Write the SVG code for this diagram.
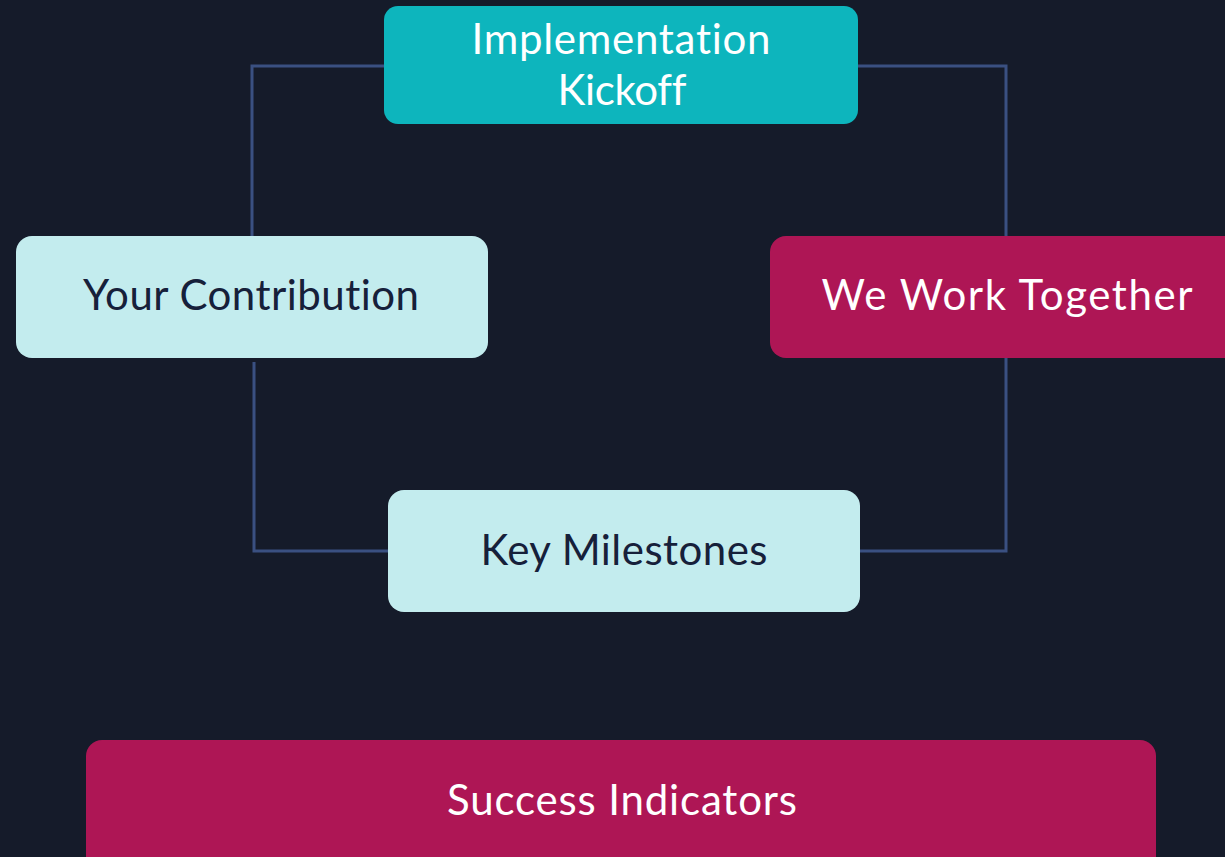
<svg xmlns="http://www.w3.org/2000/svg" width="1225" height="857" viewBox="0 0 1225 857">
<style>
.bg{fill:#151b2a}
.conn{fill:none;stroke:#3a5081;stroke-width:3}
.t{font-family:Lato,"Noto Sans","Liberation Sans",sans-serif;font-size:42px;text-anchor:middle;font-variant-ligatures:none}
.light{fill:#c3ecee}
.teal{fill:#0db5bd}
.pink{fill:#ae1655}
.dk{fill:#16203a}
.wt{fill:#ffffff}
</style>
<rect class="bg" x="0" y="0" width="1225" height="857"/>
<g id="connectors">
<polyline class="conn" points="384,66 252,66 252,236"/>
<polyline class="conn" points="858,66 1006,66 1006,236"/>
<polyline class="conn" points="254,362 254,551 388,551"/>
<polyline class="conn" points="1006,358 1006,551 860,551"/>
</g>
<g id="kickoff">
<rect class="teal" x="384" y="6" width="474" height="118" rx="14"/>
<text class="t wt" x="621" y="54" textLength="299" lengthAdjust="spacing">Implementation</text>
<text class="t wt" x="622" y="105" textLength="129" lengthAdjust="spacing">Kickoff</text>
</g>
<g id="contribution">
<rect class="light" x="16" y="236" width="472" height="122" rx="16"/>
<text class="t dk" x="251" y="310" textLength="336" lengthAdjust="spacing">Your Contribution</text>
</g>
<g id="together">
<rect class="pink" x="770" y="236" width="474" height="122" rx="16"/>
<text class="t wt" x="1007" y="310" textLength="371" lengthAdjust="spacing">We Work Together</text>
</g>
<g id="milestones">
<rect class="light" x="388" y="490" width="472" height="122" rx="16"/>
<text class="t dk" x="624" y="565" textLength="287" lengthAdjust="spacing">Key Milestones</text>
</g>
<g id="success">
<rect class="pink" x="86" y="740" width="1070" height="140" rx="16"/>
<text class="t wt" x="622" y="815" textLength="350" lengthAdjust="spacing">Success Indicators</text>
</g>
</svg>
